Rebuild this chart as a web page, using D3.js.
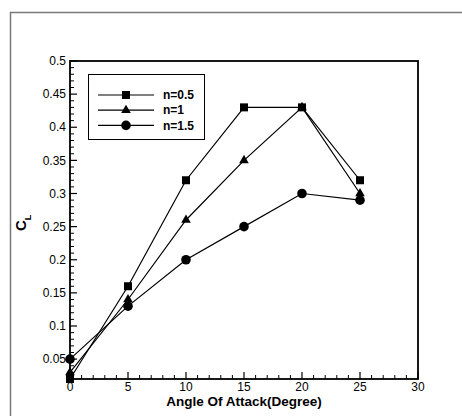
<!DOCTYPE html>
<html>
<head>
<meta charset="utf-8">
<script src="https://cdn.jsdelivr.net/npm/d3@7"></script>
<style>
body{margin:0;background:#fff;}
text{font-family:"Liberation Sans",Arial,sans-serif;fill:#000;}
</style>
</head>
<body>
<div id="chart"></div>
<script>
// angle of attack (degree)
const angles=[0,5,10,15,20,25];
// lift coefficient for each n
const cl05=[0.02,0.16,0.32,0.43,0.43,0.32];
const cl1=[0.03,0.14,0.26,0.35,0.43,0.30];
const cl15=[0.05,0.13,0.20,0.25,0.30,0.29];
const seriesNames=["n=0.5","n=1","n=1.5"];
const seriesSymbols=["square","triangle","circle"];
const xTicks=[0,5,10,15,20,25,30];
const yTicks=[0.05,0.1,0.15,0.2,0.25,0.3,0.35,0.4,0.45,0.5];

const W=462,H=416;
const svg=d3.select("#chart").append("svg").attr("width",W).attr("height",H);

// outer frame (only left and top visible)
svg.append("rect").attr("x",10.5).attr("y",12.5).attr("width",470).attr("height",430)
   .attr("fill","none").attr("stroke","#7a7a7a").attr("stroke-width",1.5);

const x=d3.scaleLinear().domain([0,30]).range([70,418]);
const y=d3.scaleLinear().domain([0.02,0.5]).range([379,61]);

// ticks pointing inward
const xMinor=d3.range(0,31,1).filter(v=>v%5!==0);
const yMinor=d3.range(2,51,1).map(v=>v/100).filter(v=>Math.round(v*100)%5!==0);

const ax=svg.append("g").attr("transform","translate(0,379)");
ax.selectAll("line.mj").data(xTicks).join("line")
  .attr("x1",d=>x(d)).attr("x2",d=>x(d)).attr("y1",0).attr("y2",-7)
  .attr("stroke","#000").attr("stroke-width",1.2);
ax.selectAll("line.mn").data(xMinor).join("line")
  .attr("x1",d=>x(d)).attr("x2",d=>x(d)).attr("y1",0).attr("y2",-4)
  .attr("stroke","#000").attr("stroke-width",1);
ax.selectAll("text").data(xTicks).join("text")
  .attr("x",d=>x(d)).attr("y",12).attr("text-anchor","middle")
  .attr("font-size",12).text(d=>d);

const ay=svg.append("g").attr("transform","translate(70,0)");
ay.selectAll("line.mj").data(yTicks).join("line")
  .attr("x1",0).attr("x2",7).attr("y1",d=>y(d)).attr("y2",d=>y(d))
  .attr("stroke","#000").attr("stroke-width",1.2);
ay.selectAll("line.mn").data(yMinor).join("line")
  .attr("x1",0).attr("x2",4).attr("y1",d=>y(d)).attr("y2",d=>y(d))
  .attr("stroke","#000").attr("stroke-width",1);
ay.selectAll("text").data(yTicks).join("text")
  .attr("x",-4).attr("y",d=>y(d)).attr("dy","0.35em").attr("text-anchor","end")
  .attr("font-size",12).text(d=>String(+d.toFixed(2)));

// plot frame
svg.append("rect").attr("x",x(0)).attr("y",y(0.5)).attr("width",x(30)-x(0)).attr("height",y(0.02)-y(0.5))
   .attr("fill","none").attr("stroke","#000").attr("stroke-width",1.8);

// axis titles
svg.append("text").attr("x",(x(0)+x(30))/2).attr("y",406).attr("text-anchor","middle")
   .attr("font-size",13.5).attr("font-weight","bold").text("Angle Of Attack(Degree)");
const yt=svg.append("text").attr("transform","translate(26,231) rotate(-90)")
   .attr("font-weight","bold");
yt.append("tspan").attr("font-size",15).text("C");
yt.append("tspan").attr("font-size",9).attr("dy",5).text("L");

function symbolPath(kind){
  if(kind==="square") return d3.symbol(d3.symbolSquare,64)();
  if(kind==="triangle") return d3.symbol(d3.symbolTriangle,40)();
  return d3.symbol(d3.symbolCircle,72)();
}

const allSeries=[cl05,cl1,cl15];
const line=d3.line().x(d=>x(d[0])).y(d=>y(d[1]));
allSeries.forEach(function(vals,i){
  const pts=angles.map((a,j)=>[a,vals[j]]);
  svg.append("path").datum(pts).attr("d",line)
     .attr("fill","none").attr("stroke","#000").attr("stroke-width",1.2);
});
allSeries.forEach(function(vals,i){
  const pts=angles.map((a,j)=>[a,vals[j]]);
  svg.selectAll(null).data(pts).join("path")
     .attr("transform",d=>"translate("+x(d[0])+","+y(d[1])+")")
     .attr("d",symbolPath(seriesSymbols[i])).attr("fill","#000");
});

// legend
const lg=svg.append("g");
lg.append("rect").attr("x",88.5).attr("y",74.5).attr("width",116).attr("height",65)
  .attr("fill","#fff").attr("stroke","#000").attr("stroke-width",1);
seriesNames.forEach(function(nm,i){
  const ly=95+i*15.2;
  lg.append("line").attr("x1",98).attr("x2",154).attr("y1",ly).attr("y2",ly)
    .attr("stroke","#000").attr("stroke-width",1.2);
  lg.append("path").attr("transform","translate(126,"+ly+")")
    .attr("d",symbolPath(seriesSymbols[i])).attr("fill","#000");
  lg.append("text").attr("x",163).attr("y",ly).attr("dy","0.35em")
    .attr("font-size",12).attr("font-weight","bold").text(nm);
});
</script>
</body>
</html>
